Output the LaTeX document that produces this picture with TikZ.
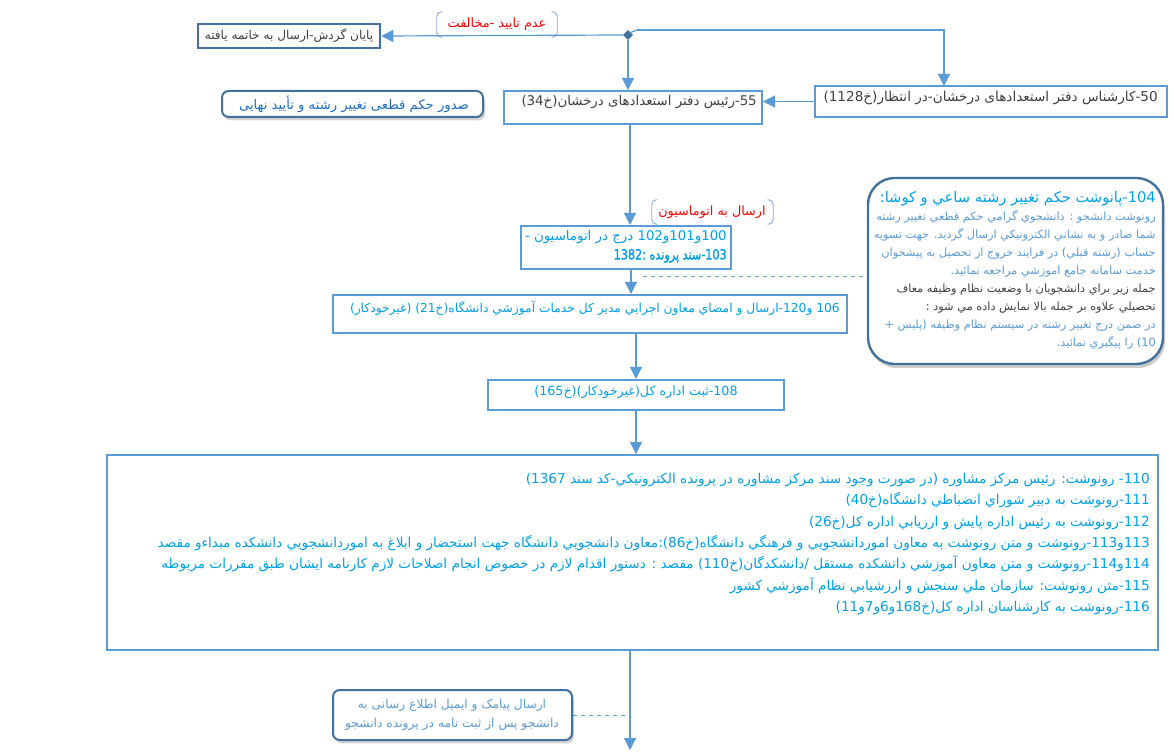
\documentclass[tikz,border=0pt]{standalone}
\usepackage{fontspec}
\setmainfont{DejaVu Sans}
\newfontfamily\arabicfont[Script=Arabic]{DejaVu Sans}
\newfontfamily\arabicbold[Script=Arabic,FakeBold=1.8]{DejaVu Sans}
\TeXXeTstate=1
\usetikzlibrary{arrows.meta,shapes.geometric,shadows,fit,calc}
\definecolor{lineblue}{RGB}{91,155,213}
\definecolor{darkblue}{RGB}{65,113,156}
\definecolor{txtgray}{RGB}{64,64,64}
\definecolor{txtcyan}{RGB}{0,160,230}
\definecolor{txtblue}{RGB}{91,155,213}
\definecolor{txtmid}{RGB}{31,110,190}
\definecolor{txtred}{RGB}{255,0,0}
\definecolor{brkcol}{RGB}{143,170,220}
\newcommand{\RL}[1]{\beginR #1\endR}
\newcommand{\fs}[1]{\fontsize{#1}{#1}\selectfont}
\begin{document}
\begin{tikzpicture}[x=0.75pt,y=-0.75pt,
  arr/.style={draw=lineblue, line width=0.9pt, -{Triangle[length=9pt,width=9pt]}},
  dashc/.style={draw=lineblue, line width=0.7pt, dashed},
  lbox/.style={draw=lineblue, line width=1.5pt, inner sep=0pt},
  dbox/.style={draw=darkblue, line width=1.9pt, inner sep=0pt},
  rbox/.style={draw=darkblue, line width=1.5pt, rounded corners=5pt, fill=white, inner sep=0pt,
    drop shadow={opacity=0.35, shadow xshift=1.5pt, shadow yshift=-2.5pt}},
  brk/.style={draw=brkcol, line width=0.7pt, rounded corners=3.5pt},
  txt/.style={inner sep=0pt, font=\arabicfont},
]
\useasboundingbox (0,0) rectangle (1174,755);
\fill[white] (0,0) rectangle (1174,755);

% ---------- boxes ----------
\node[dbox, fit={(198,24) (380,48)}] (bend) {};
\node[txt, text=txtgray, font=\arabicfont\fs{9.1}] (tend) at (289,36) {\RL{پایان گردش-ارسال به خاتمه یافته}};

\node[diamond, fill=darkblue, draw=darkblue, minimum width=7pt, minimum height=7pt, inner sep=0pt] (dia) at (628,35) {};

\node[fit={(437,12) (557,37)}, inner sep=0pt] (br1) {};
\node[txt, text=txtred, font=\arabicfont\fs{9.6}] (l1) at (497,24) {\RL{عدم تایید -مخالفت}};

\node[lbox, fit={(815,86) (1167,117)}] (b50) {};
\node[txt, text=txtgray, font=\arabicfont\fs{10.2}, anchor=east] (t50) at (1158,98) {\RL{50-کارشناس دفتر استعدادهای درخشان-در انتظار(خ1128)}};

\node[rbox, fit={(222,91) (483,117)}] (bfinal) {};
\node[txt, text=txtmid, font=\arabicfont\fs{9.9}] (tfinal) at (354,104) {\RL{صدور حکم قطعی تغییر رشته و تأیید نهایی}};

\node[lbox, fit={(504,91) (762,124)}] (b55) {};
\node[txt, text=txtgray, font=\arabicfont\fs{10}, anchor=east] (t55) at (757,102) {\RL{55-رئیس دفتر استعدادهای درخشان(خ34)}};

\node[fit={(652,200) (773,224)}, inner sep=0pt] (br2) {};
\node[txt, text=txtred, font=\arabicfont\fs{9.6}] (l2) at (712,212) {\RL{ارسال به اتوماسیون}};

\node[lbox, fit={(521,226) (731,269)}] (b100) {};
\node[txt, text=txtcyan, font=\arabicfont\fs{10}, anchor=north east, align=right] (t100) at (727,230)
  {\RL{100و101و102 درج در اتوماسیون -}\\[3pt] \scalebox{0.8}[1]{\arabicbold\fs{10.5}\RL{103-سند پرونده :1382}}};

\node[lbox, fit={(333,295) (847,333)}] (b106) {};
\node[txt, text=txtcyan, font=\arabicfont\fs{9.2}, anchor=east] (t106) at (840,308) {\RL{106 و120-ارسال و امضاي معاون اجرايي مدير كل خدمات آموزشي دانشگاه(خ21) (غيرخودكار)}};

\node[lbox, fit={(488,380) (784,410)}] (b108) {};
\node[txt, text=txtcyan, font=\arabicfont\fs{9.5}] (t108) at (636,392) {\RL{108-ثبت اداره کل(غیرخودکار)(خ165)}};

\node[lbox, fit={(107,455) (1158,650)}] (big) {};
\node[txt, text=txtcyan, font=\arabicfont\fontsize{10.2}{16}\selectfont, anchor=north east, align=right] (tbig) at (1150,473)
  {\RL{110- رونوشت: رئیس مرکز مشاوره (در صورت وجود سند مرکز مشاوره در پرونده الکترونیکي-کد سند 1367)}\\
   \RL{111-رونوشت به دبیر شوراي انضباطي دانشگاه(خ40)}\\
   \RL{112-رونوشت به رئیس اداره پایش و ارزیابي اداره کل(خ26)}\\
   \RL{113و113-رونوشت و متن رونوشت  به معاون اموردانشجويي و فرهنگي دانشگاه(خ86):معاون دانشجويي دانشگاه جهت استحضار و ابلاغ به اموردانشجويي دانشکده مبداءو مقصد}\\
   \RL{114و114-رونوشت و متن  معاون آموزشي دانشکده مستقل /دانشکدگان(خ110) مقصد : دستور اقدام لازم در خصوص انجام اصلاحات لازم کارنامه ايشان طبق مقررات مربوطه}\\
   \RL{115-متن رونوشت: سازمان ملي سنجش و ارزشيابي نظام آموزشي کشور}\\
   \RL{116-رونوشت به کارشناسان اداره کل(خ168و6و7و11)}};

% callout
\node[draw=darkblue, line width=1.8pt, rounded corners=20pt, fill=white, inner sep=0pt,
  drop shadow={opacity=0.4, shadow xshift=1.5pt, shadow yshift=-3pt},
  fit={(868,178) (1163,364)}] (call) {};
\node[txt, font=\arabicfont\fontsize{8.5}{13.5}\selectfont, anchor=north east, align=right] (tcall) at (1156,191)
  {{\color{txtcyan}\fs{11}\RL{104-پانوشت حکم تغییر رشته ساعي و کوشا:}}\\
   {\color{txtblue}\RL{رونوشت دانشجو : دانشجوي گرامي حکم قطعي تغيير رشته}}\\
   {\color{txtblue}\RL{شما صادر و به نشاني الکترونيکي ارسال گرديد. جهت تسويه}}\\
   {\color{txtblue}\RL{حساب (رشته قبلي) در فرايند خروج از تحصيل به پيشخوان}}\\
   {\color{txtblue}\RL{خدمت سامانه جامع اموزشي مراجعه نمائيد.}}\\
   {\color{txtgray}\RL{جمله زير براي دانشجويان با وضعيت نظام وظيفه معاف}}\\
   {\color{txtgray}\RL{تحصيلي علاوه بر جمله بالا نمايش داده مي شود :}}\\
   {\color{txtblue}\RL{در ضمن درج تغيير رشته در سيستم نظام وظيفه (پليس +}}\\
   {\color{txtblue}\RL{10) را پيگيري نمائيد.}}};

% bottom box
\node[rbox, fit={(333,690) (572,740)}] (bsms) {};
\node[txt, text=txtblue, font=\arabicfont\fontsize{9.2}{14.5}\selectfont, align=center] (tsms) at (452,715)
  {\RL{ارسال پیامک و ایمیل اطلاع رسانی به}\\ \RL{دانشجو پس از ثبت نامه در پرونده دانشجو}};

% ---------- brackets ----------
\draw[brk] ([xshift=4.5pt]br1.north west) -- (br1.north west) -- (br1.south west) -- ([xshift=4.5pt]br1.south west);
\draw[brk] ([xshift=-4.5pt]br1.north east) -- (br1.north east) -- (br1.south east) -- ([xshift=-4.5pt]br1.south east);
\draw[brk] ([xshift=4.5pt]br2.north west) -- (br2.north west) -- (br2.south west) -- ([xshift=4.5pt]br2.south west);
\draw[brk] ([xshift=-4.5pt]br2.north east) -- (br2.north east) -- (br2.south east) -- ([xshift=-4.5pt]br2.south east);

% ---------- connectors ----------
\coordinate (c50) at (944,86);
\coordinate (ctop) at (637,30);
\draw[arr] (dia.west) -- (bend.east);
\draw[lineblue, line width=0.9pt] (dia.north east) -- (ctop);
\draw[arr] (ctop) -| (c50);
\draw[arr] (dia.south) -- (dia.south |- b55.north);
\draw[arr] (b50.west) -- (b55.east |- b50.west);
\draw[arr] ($(b55.south)+(-3,0)$) -- ($(b55.south |- b100.north)+(-3,0)$);
\draw[arr] ($(b100.south)+(5,0)$) -- ($(b100.south |- b106.north)+(5,0)$);
\draw[arr] (b108.north |- b106.south) -- (b108.north);
\draw[arr] (b108.south) -- (b108.south |- big.north);
\coordinate (cend) at (630,750);
\draw[arr] (big.south -| cend) -- (cend);
\draw[dashc] (643,276) -- (call.west |- 0,276);
\draw[dashc] (bsms.east) -- (bsms.east -| cend);
\end{tikzpicture}
\end{document}
